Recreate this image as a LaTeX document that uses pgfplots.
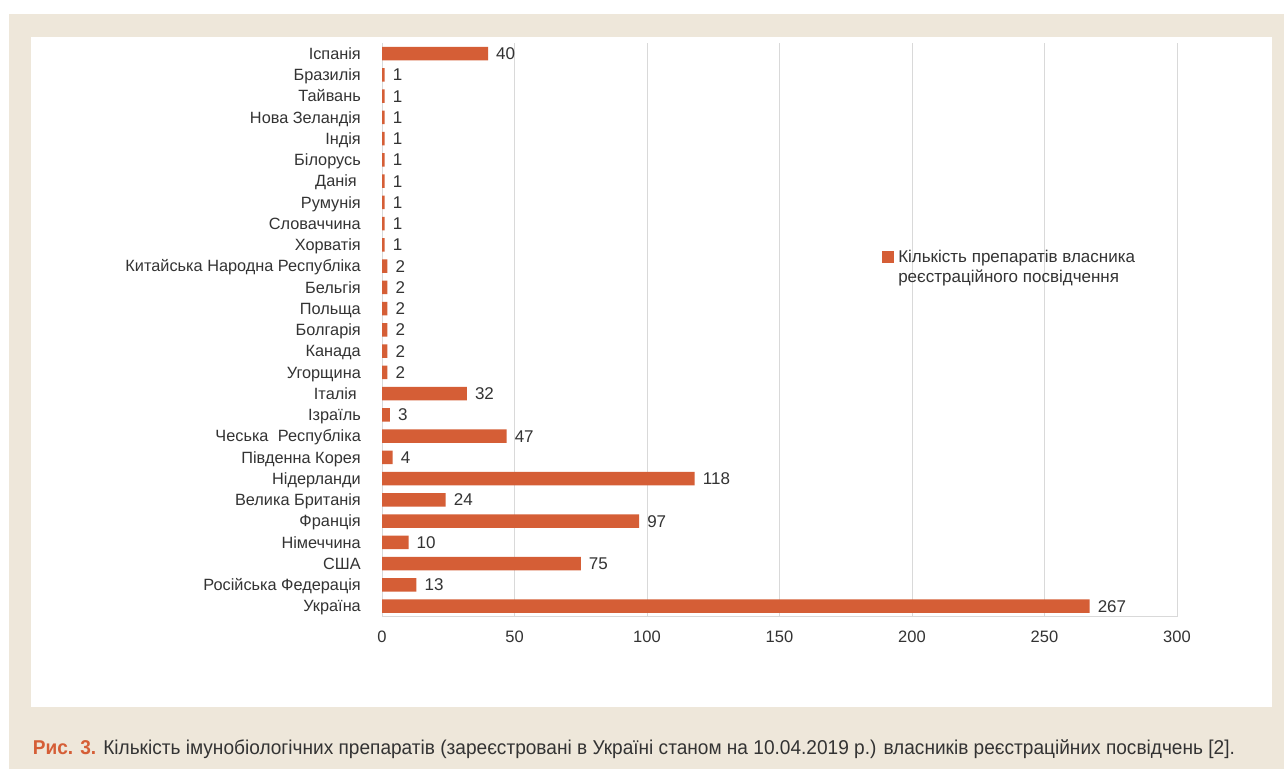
\documentclass[border=0pt]{standalone}
\usepackage{pgfplots}
\pgfplotsset{compat=1.18}
\usepackage{fontspec}
\setmainfont{Liberation Sans}
\usepackage{graphicx}
\definecolor{barc}{HTML}{D55E36}
\definecolor{beige}{HTML}{EEE7DA}
\definecolor{txt}{HTML}{333333}
\definecolor{gridc}{HTML}{D9D9D9}
\begin{document}
\begin{tikzpicture}[x=1pt,y=1pt]
\fill[white] (0,0) rectangle (1284,769);
\fill[beige] (9,0) rectangle (1284,755);
\fill[white] (31,62) rectangle (1272,732);
\begin{axis}[
  at={(382pt,152.3pt)}, anchor=south west,
  scale only axis, width=795pt, height=573.7pt,
  xbar, bar width=13.4pt,
  xmin=0, xmax=300, ymin=-0.5, ymax=26.5,
  xtick={0,50,...,300},
  ytick={0,...,26},
  yticklabels={Україна, Російська Федерація, США, Німеччина, Франція, Велика Британія, Нідерланди, Південна Корея, Чеська\hspace{0.3em} Республіка, Ізраїль, Італія\kern4pt, Угорщина, Канада, Болгарія, Польща, Бельгія, Китайська Народна Республіка, Хорватія, Словаччина, Румунія, Данія\kern4pt, Білорусь, Індія, Нова Зеландія, Тайвань, Бразилія, Іспанія},
  axis lines*=left,
  axis line style={gridc, line width=1pt, -},
  xmajorgrids, grid style={gridc, line width=1pt},
  major tick length=0pt,
  /pgf/number format/assume math mode=true,
  tick label style={text=txt},
  xticklabel style={font=\fontsize{16.5}{18}\selectfont, anchor=north, inner sep=0pt, text height=11.8pt, text depth=0pt, yshift=-13.3pt},
  yticklabel style={font=\fontsize{16.3}{18}\selectfont, anchor=east, inner sep=0pt, text height=13pt, text depth=1.3pt, xshift=-21pt},
  nodes near coords,
  every node near coord/.append style={anchor=west, inner sep=0pt, xshift=8pt, font=\fontsize{17}{18}\selectfont, text=txt, text height=14pt, text depth=1.8pt},
  legend style={at={(0.629,0.6427)}, anchor=north west, draw=none, fill=none, inner sep=0pt, font=\fontsize{17}{20}\selectfont, text=txt, cells={align=left, anchor=west}},
  legend image code/.code={\fill[barc] (0pt,4pt) rectangle (12pt,16pt);},
]
\addplot[fill=barc, draw=none] coordinates {
(267,0) (13,1) (75,2) (10,3) (97,4) (24,5) (118,6) (4,7) (47,8) (3,9) (32,10) (2,11) (2,12) (2,13) (2,14) (2,15) (2,16) (1,17) (1,18) (1,19) (1,20) (1,21) (1,22) (1,23) (1,24) (1,25) (40,26)
};
\addlegendentry{\hspace*{2pt}Кількість препаратів власника\\\hspace*{2pt}реєстраційного посвідчення}
\end{axis}
\node[anchor=base west, inner sep=0pt, text=txt] at (32.7,14.7) {\resizebox{1202pt}{\height}{\fontsize{20}{22}\selectfont\textcolor{barc}{\bfseries Рис. 3.} Кількість імунобіологічних препаратів (зареєстровані в Україні станом на 10.04.2019 р.) власників реєстраційних посвідчень [2].}};
\pgfresetboundingbox
\path[use as bounding box] (0,0) rectangle (1284,769);
\end{tikzpicture}
\end{document}
